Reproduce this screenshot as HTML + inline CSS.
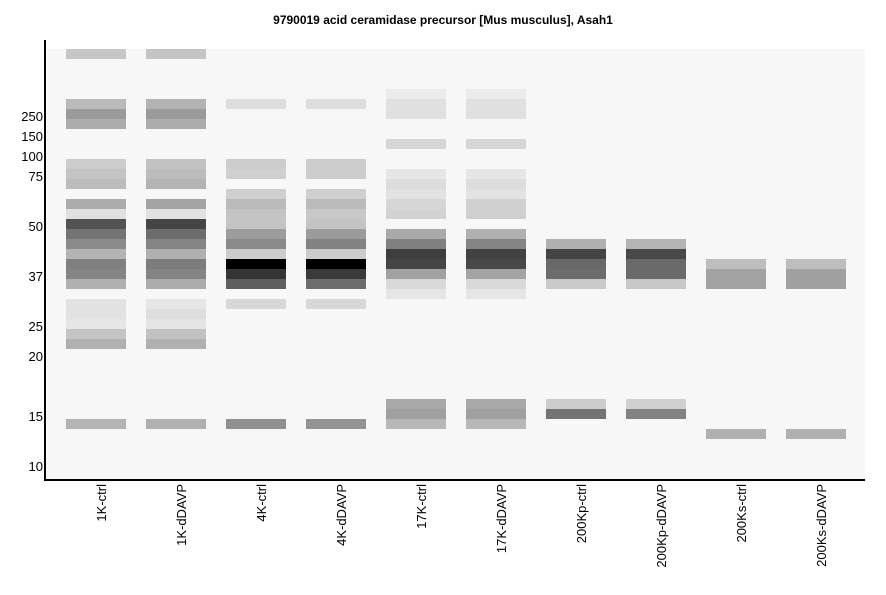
<!DOCTYPE html>
<html><head><style>
body{margin:0;width:886px;height:595px;background:#fff;position:relative;overflow:hidden;font-family:"Liberation Sans",sans-serif;}
#plot{position:absolute;left:47px;top:49px;width:818px;height:430px;background:#f7f7f7;}
.b{position:absolute;height:10px;width:60px;}
.ax{position:absolute;background:#000;}
.yl{position:absolute;right:843px;font-size:13px;color:#000;line-height:13px;}
.xl{position:absolute;top:484px;font-size:13px;writing-mode:vertical-rl;transform:rotate(180deg);line-height:13px;}
#title{position:absolute;top:13px;left:0;width:886px;text-align:center;font-weight:bold;font-size:12px;}
</style></head><body>
<div id="title">9790019 acid ceramidase precursor [Mus musculus], Asah1</div>
<div id="plot"></div>
<div class="ax" style="left:44px;top:40px;width:2px;height:441px"></div>
<div class="ax" style="left:44px;top:479px;width:821px;height:2px"></div>
<div class="yl" style="top:110px">250</div>
<div class="yl" style="top:130px">150</div>
<div class="yl" style="top:150px">100</div>
<div class="yl" style="top:170px">75</div>
<div class="yl" style="top:220px">50</div>
<div class="yl" style="top:270px">37</div>
<div class="yl" style="top:320px">25</div>
<div class="yl" style="top:350px">20</div>
<div class="yl" style="top:410px">15</div>
<div class="yl" style="top:460px">10</div>
<div class="xl" style="left:95px">1K-ctrl</div>
<div class="xl" style="left:175px">1K-dDAVP</div>
<div class="xl" style="left:255px">4K-ctrl</div>
<div class="xl" style="left:335px">4K-dDAVP</div>
<div class="xl" style="left:415px">17K-ctrl</div>
<div class="xl" style="left:495px">17K-dDAVP</div>
<div class="xl" style="left:575px">200Kp-ctrl</div>
<div class="xl" style="left:655px">200Kp-dDAVP</div>
<div class="xl" style="left:735px">200Ks-ctrl</div>
<div class="xl" style="left:815px">200Ks-dDAVP</div>
<script>
var L=[
{49:'c6c6c6',99:'b9bab9',109:'9a9b9a',119:'acacac',159:'cbcccb',169:'c4c4c4',179:'bcbcbc',199:'acacac',209:'e0e0e0',219:'525352',229:'747474',239:'8a8b8a',249:'b4b4b4',259:'808080',269:'858585',279:'b0b0b0',299:'e2e2e2',309:'e2e2e2',319:'e6e6e6',329:'c4c4c4',339:'b0b0b0',419:'b4b4b4'},
{49:'c4c4c4',99:'b2b2b2',109:'9b9b9b',119:'acacac',159:'c2c2c2',169:'bcbcbc',179:'b4b4b4',199:'a4a4a4',209:'e2e2e2',219:'454545',229:'6c6c6c',239:'848484',249:'b0b0b0',259:'7c7c7c',269:'848484',279:'acacac',299:'e6e6e6',309:'dedede',319:'e4e4e4',329:'c2c2c2',339:'b0b0b0',419:'b0b0b0'},
{99:'dedede',159:'cccccc',169:'d0d0d0',189:'d0d0d0',199:'bababa',209:'c4c4c4',219:'c4c4c4',229:'9c9c9c',239:'8a8a8a',249:'cccccc',259:'000000',269:'353535',279:'5e5e5e',299:'d8d8d8',419:'909090'},
{99:'dedede',159:'cccccc',169:'cccccc',189:'d0d0d0',199:'bababa',209:'c8c8c8',219:'c4c4c4',229:'9c9c9c',239:'828282',249:'cccccc',259:'000000',269:'3a3a3a',279:'6c6c6c',299:'d8d8d8',419:'939393'},
{89:'ececec',99:'e0e0e0',109:'e0e0e0',139:'d6d6d6',169:'e6e6e6',179:'dcdcdc',189:'e2e2e2',199:'d6d6d6',209:'d2d2d2',229:'aaaaaa',239:'808080',249:'3e3e3e',259:'444444',269:'a2a2a2',279:'d8d8d8',289:'e6e6e6',399:'a8a8a8',409:'a0a0a0',419:'b8b8b8'},
{89:'ececec',99:'e0e0e0',109:'e0e0e0',139:'d6d6d6',169:'e6e6e6',179:'dddddd',189:'e2e2e2',199:'d0d0d0',209:'d0d0d0',229:'b0b0b0',239:'848484',249:'424242',259:'484848',269:'a4a4a4',279:'d8d8d8',289:'e6e6e6',399:'a8a8a8',409:'a0a0a0',419:'b8b8b8'},
{239:'b0b0b0',249:'444444',259:'686868',269:'6c6c6c',279:'cacaca',399:'cccccc',409:'747474'},
{239:'b4b4b4',249:'484848',259:'6a6a6a',269:'6a6a6a',279:'c8c8c8',399:'d0d0d0',409:'828282'},
{259:'bebebe',269:'a2a2a2',279:'a2a2a2',429:'b0b0b0'},
{259:'bebebe',269:'a0a0a0',279:'a0a0a0',429:'b0b0b0'}];
var h='';
L.forEach(function(l,i){for(var y in l){h+='<div class="b" style="left:'+(66+80*i)+'px;top:'+y+'px;background:#'+l[y]+'"></div>';}});
document.body.insertAdjacentHTML('beforeend',h);
</script>
</body></html>
